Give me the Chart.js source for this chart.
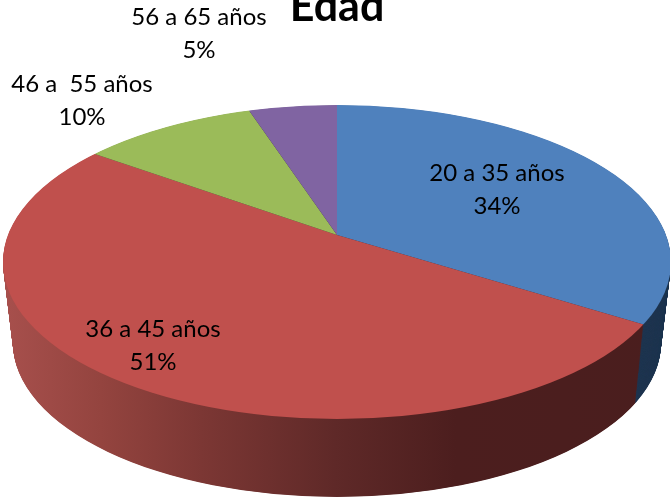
<!DOCTYPE html>
<html>
<head>
<meta charset="utf-8">
<title>Edad</title>
<script src="https://cdn.jsdelivr.net/npm/chart.js@4/dist/chart.umd.min.js"></script>
<style>
    html, body { margin: 0; padding: 0; background: #fff; }
    #wrap { width: 670px; height: 497px; overflow: hidden; }
</style>
</head>
<body>
<div id="wrap"><canvas id="edadChart" width="670" height="497"></canvas></div>
<script>
const titleText = 'Edad';
const categories = ['20 a 35 años', '36 a 45 años', '46 a  55 años', '56 a 65 años'];
const values = [34, 51, 10, 5];
const sliceColors = ['#4f81bd', '#c0504d', '#9bbb59', '#8064a2'];

// where the picture puts things, px
const labelCenters = [[497, 173], [153, 329], [82, 84], [199, 17]];
const labelGap = 33;
const apex = { x: 337, y: 235 };
const topRim = { x: 337, y: 262, rx: 334, ry: 157 };
const bottomRim = { x: 337, y: 343, rx: 324, ry: 154 };
const tilt = 0.46;

// side wall colours, index lines up with categories
const wallStops = [[0, '#a8504d'], [0.15, '#94443f'], [0.3, '#7c3734'], [0.5, '#5f2928'], [0.68, '#4c1e1e'], [1, '#4a1e1e']];
const blueWall = '#1f3550';
const hiddenWall = '#333333';

// stretch the library's pie so it fills the rim, then cut it to the rim
function enterPie(ctx, arc, rim, drop, shrink) {
    const s = 1.8 * shrink;
    ctx.beginPath();
    ctx.ellipse(rim.x, rim.y, rim.rx, rim.ry, 0, 0, Math.PI * 2);
    ctx.clip();
    ctx.translate(apex.x, apex.y + drop);
    ctx.scale(s, s * tilt);
    ctx.translate(-arc.x, -arc.y);
    return s;
}

const pie3d = {
    id: 'pie3d',
    beforeDatasetsDraw(chart) {
        const ctx = chart.ctx;
        const arcs = chart.getDatasetMeta(0).data;
        const depth = bottomRim.y - topRim.y;
        for (let d = depth; d > 0; d -= 0.5) {
            const t = d / depth;
            const rim = {
                x: topRim.x,
                y: topRim.y + d,
                rx: topRim.rx + (bottomRim.rx - topRim.rx) * t,
                ry: topRim.ry + (bottomRim.ry - topRim.ry) * t
            };
            ctx.save();
            const s = enterPie(ctx, arcs[0], rim, d, rim.rx / topRim.rx);
            // gradient runs in the stretched space, so map page x back
            const toPie = x => (x - apex.x) / s + arcs[0].x;
            const red = ctx.createLinearGradient(toPie(0), 0, toPie(670), 0);
            wallStops.forEach(p => red.addColorStop(p[0], p[1]));
            const fills = [blueWall, red, hiddenWall, hiddenWall];
            arcs.forEach((arc, i) => {
                const saved = arc.options;
                arc.options = Object.assign({}, saved, { backgroundColor: fills[i] });
                arc.draw(ctx);
                arc.options = saved;
            });
            ctx.restore();
        }
    },
    beforeDatasetDraw(chart) {
        chart.ctx.save();
        enterPie(chart.ctx, chart.getDatasetMeta(0).data[0], topRim, 0, 1);
    },
    afterDatasetDraw(chart) {
        chart.ctx.restore();
    },
    afterDraw(chart) {
        const ctx = chart.ctx;
        ctx.save();
        ctx.fillStyle = '#000';
        ctx.textAlign = 'center';
        ctx.textBaseline = 'middle';
        ctx.font = 'bold 43px Lato';
        ctx.fillText(titleText, 337, 7);
        ctx.font = '24px Lato';
        categories.forEach((name, i) => {
            const p = labelCenters[i];
            ctx.fillText(name, p[0], p[1]);
            ctx.fillText(values[i] + '%', p[0], p[1] + labelGap);
        });
        ctx.restore();
    }
};

new Chart(document.getElementById('edadChart').getContext('2d'), {
    type: 'pie',
    data: {
        labels: categories,
        datasets: [{
            data: values,
            backgroundColor: sliceColors,
            borderWidth: 0,
            clip: false
        }]
    },
    options: {
        responsive: false,
        animation: false,
        plugins: {
            legend: { display: false },
            tooltip: { enabled: false }
        }
    },
    plugins: [pie3d]
});
</script>
</body>
</html>
